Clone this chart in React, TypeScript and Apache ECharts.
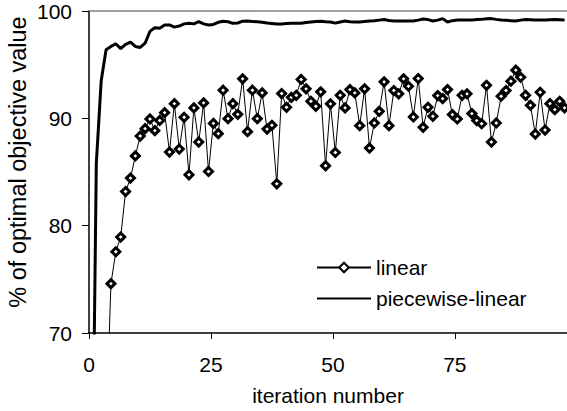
import React, { useEffect, useRef } from "react";
import * as echarts from "echarts";

// iteration numbers (1-based) — each iteration is drawn at the centre of its unit slot
const linearFirstIteration = 4;
const linearValues = [
  61, 74.6, 77.57, 78.94, 83.18, 84.43, 86.5, 88.35, 89.04, 89.94, 88.85, 89.8, 90.53, 86.86,
  91.37, 87.14, 90.1, 84.74, 90.97, 87.79, 91.44, 85.05, 89.53, 88.57, 92.62, 89.97, 91.37,
  90.37, 93.68, 88.76, 92.62, 89.97, 92.37, 89.0, 89.35, 83.9, 92.31, 91.03, 91.96, 92.15,
  93.62, 92.75, 91.59, 91.12, 92.47, 85.58, 91.35, 86.82, 92.15, 90.97, 92.68, 92.37, 89.32,
  92.75, 87.23, 89.57, 90.65, 93.4, 89.32, 92.59, 92.28, 93.68, 92.99, 90.13, 93.71, 89.16,
  91.03, 90.19, 92.12, 91.84, 92.68, 90.35, 89.94, 92.15, 92.28, 90.44, 89.79, 89.5, 93.08,
  87.79, 89.57, 92.06, 92.59, 93.46, 94.49, 93.83, 92.15, 91.21, 88.54, 92.43, 88.91, 91.37,
  90.81, 91.59, 90.97,
];

const piecewiseFirstIteration = 1;
const piecewiseValues = [
  47, 85.8, 93.5, 96.4, 96.7, 96.95, 96.5, 96.9, 97.1, 96.7, 96.6, 97.0, 98.1, 98.45, 98.4,
  98.7, 98.7, 98.5, 98.6, 98.8, 98.85, 98.8, 99.0, 98.8, 98.7, 98.75, 98.95, 99.05, 99.0,
  98.85, 98.88, 99.05, 99.07, 99.03, 98.99, 98.95, 98.88, 98.83, 98.78, 98.78, 98.83, 98.85,
  98.85, 98.85, 98.92, 98.97, 99.02, 99.04, 99.0, 98.97, 98.87, 98.98, 99.07, 99.0, 98.97,
  98.97, 99.02, 99.07, 99.1, 99.15, 99.2, 99.12, 99.07, 99.07, 99.07, 99.07, 99.07, 99.15,
  99.25, 99.2, 99.07, 99.15, 99.29, 98.97, 99.1, 99.16, 99.16, 99.16, 99.16, 99.2, 99.22,
  99.27, 99.29, 99.22, 99.16, 99.13, 99.1, 99.07, 99.15, 99.2, 99.18, 99.16, 99.16, 99.16,
  99.18, 99.2, 99.18, 99.16,
];

const xTicks = [0, 25, 50, 75];
const yTicks = [70, 80, 90, 100];
const xMax = 98;
const seriesNames = ["linear", "piecewise-linear"];
const xTitle = "iteration number";
const yTitle = "% of optimal objective value";

const SLOT_CENTER = 0.5;
const FONT = "'Liberation Sans', Arial, sans-serif";

function toPoints(first: number, values: number[]) {
  return values.map((v, i) => [first + i - SLOT_CENTER, v]);
}

export default function App() {
  const ref = useRef<HTMLDivElement>(null);
  useEffect(() => {
    if (!ref.current) return;
    const chart = echarts.init(ref.current, undefined, { renderer: "svg" });
    chart.setOption({
      animation: false,
      backgroundColor: "#fff",
      textStyle: { fontFamily: FONT, color: "#000" },
      grid: {
        left: 89,
        right: 0,
        top: 11,
        bottom: 78,
        containLabel: false,
        outerBoundsMode: "none",
      },
      legend: {
        orient: "vertical",
        left: 316,
        top: 257,
        padding: 0,
        itemWidth: 54,
        itemHeight: 12,
        itemGap: 10,
        data: [
          { name: seriesNames[0] },
          { name: seriesNames[1], itemStyle: { color: "transparent", borderWidth: 0, opacity: 0 } },
        ],
        textStyle: { fontFamily: FONT, fontSize: 21, color: "#000" },
      },
      xAxis: [
        {
          type: "value",
          min: 0,
          max: xMax,
          interval: 25,
          name: xTitle,
          nameLocation: "middle",
          nameGap: 52,
          nameMoveOverlap: false,
          nameTextStyle: { fontFamily: FONT, fontSize: 21, color: "#000" },
          axisLine: { show: true, onZero: false, lineStyle: { color: "#000", width: 1.5 } },
          axisTick: { show: true, length: 6, inside: false, lineStyle: { color: "#000", width: 1 } },
          axisLabel: {
            fontFamily: FONT,
            fontSize: 21,
            color: "#000",
            margin: 21,
            showMaxLabel: false,
            formatter: (v: number) => (xTicks.includes(v) ? String(v) : ""),
          },
          splitLine: { show: false },
        },
        {
          type: "value",
          position: "top",
          min: 0,
          max: xMax,
          axisLine: { show: true, onZero: false, lineStyle: { color: "#808080", width: 1.5 } },
          axisTick: { show: false },
          axisLabel: { show: false },
          splitLine: { show: false },
        },
      ],
      yAxis: {
        type: "value",
        min: yTicks[0],
        max: yTicks[yTicks.length - 1],
        interval: 10,
        name: yTitle,
        nameLocation: "middle",
        nameGap: 59,
        nameMoveOverlap: false,
        nameTextStyle: { fontFamily: FONT, fontSize: 23.5, color: "#000", padding: [0, 0, 0, 20] },
        axisLine: { show: true, lineStyle: { color: "#000", width: 1.5 } },
        axisTick: { show: true, length: 7, lineStyle: { color: "#000", width: 1 } },
        axisLabel: { fontFamily: FONT, fontSize: 21, color: "#000", margin: 17 },
        splitLine: { show: false },
      },
      series: [
        {
          name: seriesNames[0],
          type: "line",
          xAxisIndex: 0,
          data: toPoints(linearFirstIteration, linearValues),
          symbol: "diamond",
          symbolSize: 8,
          showAllSymbol: true,
          lineStyle: { color: "#000", width: 1 },
          itemStyle: { color: "#fff", borderColor: "#000", borderWidth: 3 },
          z: 3,
        },
        {
          name: seriesNames[1],
          type: "line",
          xAxisIndex: 0,
          data: toPoints(piecewiseFirstIteration, piecewiseValues),
          symbol: "none",
          lineStyle: { color: "#000", width: 3 },
          itemStyle: { color: "#000" },
          z: 2,
        },
      ],
    });
    return () => chart.dispose();
  }, []);
  return (
    <div
      ref={ref}
      style={{ position: "fixed", left: 0, top: 0, width: 567, height: 411 }}
    />
  );
}
